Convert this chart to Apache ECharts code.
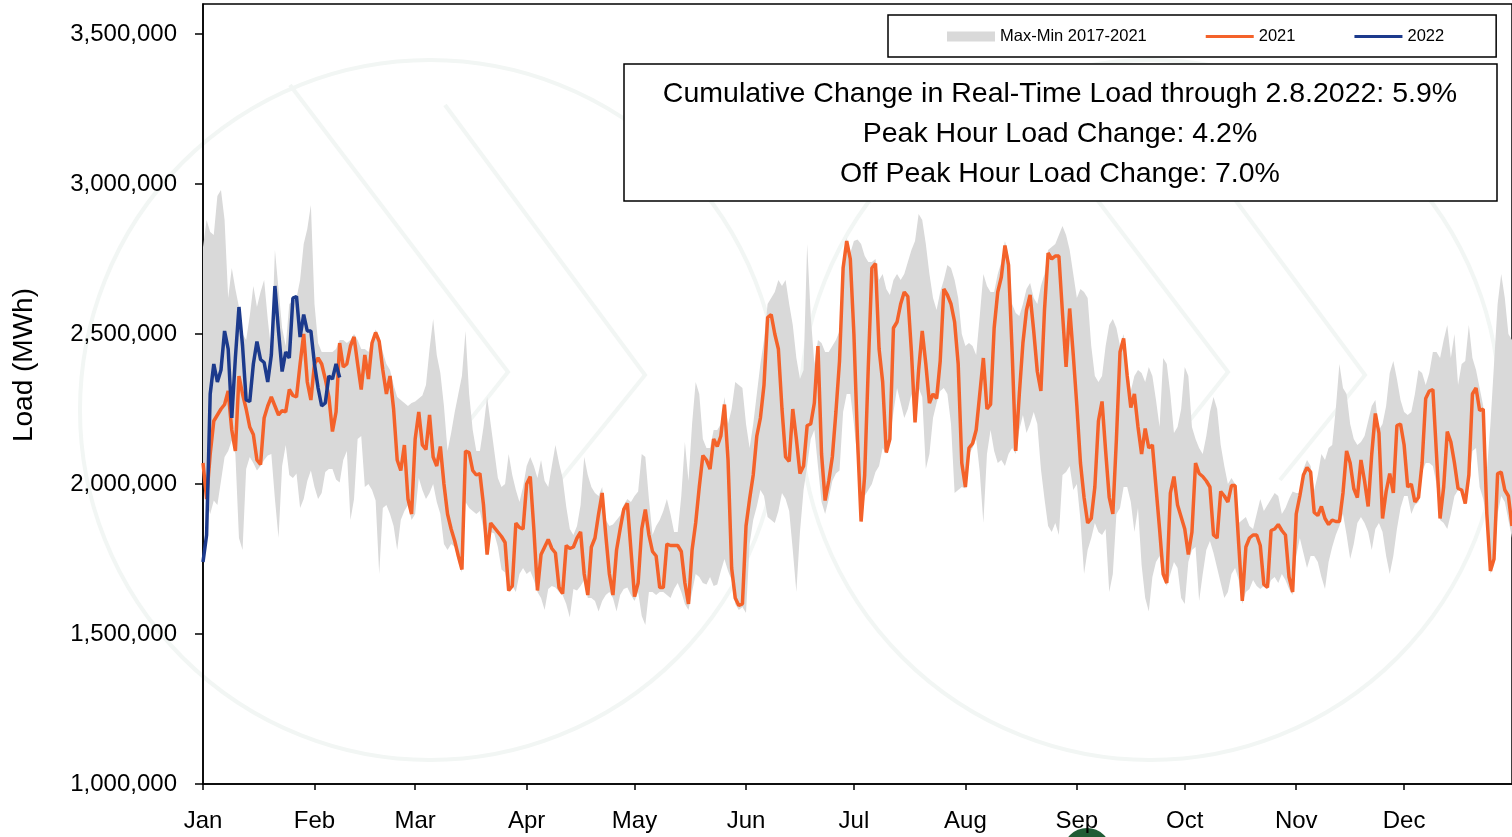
<!DOCTYPE html>
<html>
<head>
<meta charset="utf-8">
<title>Real-Time Load</title>
<script src="https://cdn.jsdelivr.net/npm/echarts@6/dist/echarts.min.js"></script>
<style>
  html, body { margin: 0; padding: 0; background: #fff; }
  #chart { width: 1512px; height: 837px; }
</style>
</head>
<body>
<div id="chart"></div>
<script>
// daily load, thousand MWh
var load2021 = [
  2070, 1950, 2100, 2210, 2230, 2250, 2265, 2310, 2180, 2110, 2360, 2300, 2250, 2190, 2165, 2080, 2065, 2220, 2260, 2290,
  2260, 2230, 2245, 2240, 2315, 2295, 2290, 2400, 2500, 2340, 2280, 2400, 2420, 2400, 2350, 2290, 2175, 2240, 2470, 2390,
  2400, 2460, 2490, 2400, 2315, 2430, 2350, 2470, 2505, 2475, 2380, 2300, 2360, 2250, 2080, 2045, 2130, 1950, 1900, 2150,
  2240, 2130, 2115, 2230, 2090, 2060, 2125, 2000, 1900, 1850, 1810, 1760, 1715, 2110, 2105, 2045, 2030, 2035, 1930, 1765,
  1870, 1855, 1840, 1825, 1805, 1645, 1660, 1870, 1855, 1850, 2000, 2025, 1850, 1645, 1765, 1790, 1815, 1785, 1770, 1655,
  1635, 1795, 1785, 1790, 1820, 1840, 1700, 1630, 1790, 1820, 1900, 1970, 1830, 1700, 1630, 1780, 1850, 1915, 1935, 1780,
  1625, 1670, 1850, 1915, 1830, 1775, 1760, 1655, 1655, 1800, 1795, 1795, 1795, 1775, 1670, 1600, 1780, 1870, 1990, 2095,
  2080, 2050, 2150, 2125, 2160, 2265, 2080, 1720, 1620, 1595, 1600, 1860, 1950, 2030, 2160, 2220, 2330, 2555, 2565, 2500,
  2450, 2250, 2090, 2075, 2250, 2150, 2035, 2060, 2195, 2200, 2270, 2460, 2100, 1945, 2010, 2090, 2240, 2410, 2720, 2810,
  2750, 2500, 2150, 1875, 2030, 2390, 2720, 2735, 2450, 2340, 2105, 2150, 2520, 2540, 2600, 2640, 2625, 2440, 2205, 2380,
  2510, 2400, 2270, 2300, 2285, 2410, 2650, 2630, 2600, 2540, 2400, 2070, 1990, 2120, 2135, 2180, 2300, 2420, 2250, 2265,
  2520, 2640, 2690, 2795, 2730, 2440, 2110, 2300, 2470, 2580, 2630, 2510, 2375, 2310, 2580, 2770, 2750, 2760, 2760, 2570,
  2390, 2585, 2430, 2260, 2070, 1955, 1870, 1885, 1990, 2210, 2275, 2110, 1955, 1900, 2150, 2440, 2485, 2360, 2255, 2300,
  2190, 2100, 2185, 2120, 2130, 1990, 1850, 1700, 1670, 1970, 2025, 1930, 1890, 1850, 1765, 1840, 2070, 2035, 2025, 2010,
  1990, 1830, 1820, 1975, 1960, 1940, 1995, 1995, 1800, 1610, 1790, 1820, 1830, 1830, 1795, 1665, 1655, 1845, 1850, 1865,
  1845, 1830, 1690, 1640, 1900, 1960, 2030, 2055, 2040, 1905, 1895, 1925, 1885, 1865, 1880, 1875, 1875, 1970, 2110, 2070,
  1985, 1955, 2080, 2010, 1925, 2100, 2235, 2170, 1885, 1975, 2035, 1970, 2195, 2200, 2130, 1990, 2000, 1940, 1955, 2070,
  2285, 2310, 2315, 2100, 1885, 1990, 2175, 2140, 2070, 1985, 1980, 1935, 2030, 2300, 2320, 2245, 2250, 1900, 1710, 1750,
  2035, 2040, 1980, 1960, 1860
];
var load2022 = [
  1740, 1830, 2300, 2400, 2340, 2380, 2510, 2450, 2220, 2420, 2590, 2460, 2280, 2275, 2400, 2475, 2415, 2405, 2340, 2430,
  2660, 2510, 2375, 2440, 2420, 2620, 2625, 2490, 2565, 2510, 2510, 2400, 2320, 2260, 2270, 2360, 2350, 2400, 2355
];
var max1721 = [
  2790, 2880, 2840, 2830, 2960, 2980, 2880, 2620, 2720, 2650, 2590, 2500, 2480, 2560, 2660, 2590, 2640, 2680, 2550, 2440,
  2780, 2650, 2520, 2460, 2600, 2610, 2620, 2680, 2800, 2850, 2930, 2600, 2470, 2440, 2440, 2440, 2440, 2450, 2480, 2480,
  2470, 2480, 2500, 2480, 2450, 2450, 2440, 2480, 2515, 2490, 2440, 2400, 2380, 2330, 2290, 2280, 2270, 2260, 2270, 2275,
  2285, 2295, 2330, 2450, 2550, 2430, 2370, 2260, 2110, 2170, 2240, 2300, 2360, 2510, 2300, 2180, 2110, 2110, 2190, 2290,
  2200, 2110, 2020, 1990, 2000, 2100, 2030, 1980, 1940, 1990, 2060, 2090, 2060, 2020, 2080, 2010, 1990, 2060, 2130, 2070,
  2020, 1925, 1850, 1830, 1860, 1930, 2090, 2030, 1990, 1970, 1960, 1990, 1880, 1860, 1865, 1880, 1895, 1930, 1950, 1940,
  1960, 1975, 2100, 2090, 1950, 1830, 1860, 1880, 1910, 1950, 1900, 1840, 1840, 1960, 2140, 2010, 2200, 2340, 2300, 2150,
  2120, 2120, 2180, 2180, 2200, 2290, 2200, 2250, 2340, 2330, 2320, 2200, 2120, 2200, 2300, 2400, 2480, 2600, 2620, 2640,
  2680, 2660, 2680, 2600, 2530, 2420, 2350, 2380, 2800, 2560, 2400, 2480, 2470, 2440, 2440, 2460, 2480, 2510, 2730, 2820,
  2770, 2810, 2815, 2800, 2760, 2740, 2740, 2750, 2680, 2700, 2650, 2630, 2680, 2700, 2680, 2700, 2740, 2780, 2810, 2900,
  2880, 2800, 2700, 2620, 2580, 2640, 2680, 2730, 2720, 2680, 2620, 2500, 2460, 2470, 2460, 2430, 2560, 2700, 2660, 2640,
  2640, 2700, 2740, 2810, 2760, 2600, 2570, 2560, 2600, 2650, 2670, 2620, 2600, 2660, 2700, 2780, 2790, 2800, 2830, 2860,
  2830, 2780, 2700, 2620, 2650, 2640, 2620, 2460, 2360, 2340, 2360, 2460, 2530, 2550, 2520, 2460, 2500, 2390, 2310, 2360,
  2380, 2370, 2340, 2390, 2360, 2280, 2190, 2420, 2400, 2300, 2170, 2190, 2250, 2390, 2360, 2190, 2150, 2120, 2100, 2160,
  2240, 2290, 2250, 2130, 2060, 2000, 2020, 2000, 1870, 1880, 1890, 1860, 1850, 1900, 1950, 1910, 1930, 1950, 1970, 1960,
  1900, 1920, 1950, 1975, 1970, 1970, 2050, 2080, 2060, 1980, 2030, 2100, 2080, 2120, 2130, 2250, 2400, 2320, 2300, 2200,
  2150, 2130, 2140, 2160, 2210, 2260, 2280, 2180, 2200, 2260, 2370, 2410, 2350, 2280, 2240, 2230, 2240, 2300, 2380, 2370,
  2330, 2370, 2440, 2440, 2420, 2480, 2530, 2420, 2500, 2330, 2400, 2410, 2530, 2420, 2380, 2320, 2260, 2040, 2200, 2400,
  2600, 2700, 2620, 2500, 2480
];
var min1721 = [
  2030, 1940, 1900, 1945, 1930, 2010, 2090, 2110, 2145, 2100, 1820, 1780, 2050, 2090, 2070, 2045, 2060, 2080, 2095, 2100,
  1950, 1820, 2060, 2130, 2030, 2020, 2035, 1920, 1950, 2010, 2045, 1990, 1950, 1970, 2040, 2050, 2050, 2015, 2005, 2080,
  2110, 1880, 1950, 2150, 2160, 1990, 2000, 1980, 1945, 1700, 1920, 1930, 1900, 1860, 1780, 1880, 1910, 1930, 1880, 1900,
  2020, 1980, 1950, 1970, 2000, 1940, 1900, 1800, 1780, 1800, 1790, 1740, 1705, 1940, 1920, 1910, 1900, 1910, 1850, 1760,
  1840, 1835, 1790, 1715, 1705, 1640, 1660, 1640, 1700, 1720, 1700, 1710, 1680, 1640, 1620, 1580, 1650, 1660, 1655, 1640,
  1630, 1600, 1555, 1650, 1645, 1660, 1680, 1620, 1620, 1610, 1575, 1610, 1630, 1640, 1620, 1575, 1630, 1650, 1655, 1630,
  1610, 1640, 1560, 1530, 1640, 1640, 1630, 1640, 1640, 1630, 1620, 1650, 1670, 1640, 1600, 1580, 1640, 1700, 1690, 1670,
  1665, 1690, 1660, 1665, 1710, 1750, 1710, 1680, 1600, 1580, 1590, 1570, 1800, 1880, 1925, 1980, 1960, 1890, 1880, 1870,
  1910, 1970, 1950, 1910, 1780, 1640, 1840, 1980, 2060, 2150, 2180, 2060, 1940, 1900, 1950, 2010, 2035, 2045, 2240, 2300,
  2300, 2200, 2080, 1870, 1960, 1980, 2000, 2040, 2060, 2120, 2100, 2150, 2240, 2320, 2270, 2220, 2250, 2300, 2200, 2320,
  2290, 2050, 2100, 2220, 2270, 2310, 2320, 2300, 2200, 1970, 1980, 1990, 1985, 2100, 2120, 2150, 2040, 1870, 2100, 2180,
  2110, 2070, 2080, 2060, 2100, 2120, 2100, 2180, 2230, 2170, 2200, 2240, 2200, 2050, 1950, 1860, 1840, 1870, 1830, 2030,
  2040, 2060, 1980, 2000, 1880, 1700, 1780, 1820, 1870, 1840, 1830, 1850, 1640, 1700, 1900, 1920, 1990, 1990, 1940, 1840,
  1920, 1730, 1620, 1575, 1690, 1740, 1760, 1690, 1660, 1700, 1740, 1720, 1620, 1600, 1740, 1780, 1790, 1610, 1700, 1780,
  1810, 1770, 1720, 1670, 1620, 1640, 1700, 1720, 1680, 1600, 1640, 1650, 1680, 1660, 1650, 1660, 1650, 1680, 1690, 1670,
  1700, 1680, 1650, 1630, 1760, 1820, 1770, 1720, 1760, 1760, 1740, 1690, 1650, 1740, 1790, 1830, 1860, 1900, 1830, 1750,
  1800, 1870, 1890, 1870, 1840, 1780, 1850, 1870, 1840, 1760, 1700, 1760, 1850, 1920, 1960, 1960, 1900, 1930, 1940, 2040,
  2070, 2070, 2060, 2000, 1880, 1870, 1850, 1900, 1960, 1980, 1980, 1930, 2010, 2110, 2120, 1990, 1950, 1880, 1700, 1740,
  1900, 1960, 1940, 1880, 1820
];
var monthStarts = [0, 31, 59, 90, 120, 151, 181, 212, 243, 273, 304, 334];
var monthLabels = ['Jan', 'Feb', 'Mar', 'Apr', 'May', 'Jun', 'Jul', 'Aug', 'Sep', 'Oct', 'Nov', 'Dec'];
var noteLines = [
  'Cumulative Change in Real-Time Load through 2.8.2022: 5.9%',
  'Peak Hour Load Change: 4.2%',
  'Off Peak Hour Load Change: 7.0%'
];

var font = "'Liberation Sans', Arial, sans-serif";
var days = [];
for (var i = 0; i < load2021.length; i++) days.push(i);

var isMonthStart = function (idx) {
  return monthStarts.indexOf(idx) >= 0;
};
var toMWh = function (arr) {
  return arr.map(function (v) { return v * 1000; });
};

var chart = echarts.init(document.getElementById('chart'));

var mark = '#f2f6f4';
var lineIcon = 'path://M0,0H48V3H0Z';
var graphics = [
  // faint logo watermark
  { type: 'circle', shape: { cx: 430, cy: 410, r: 350 }, style: { fill: 'none', stroke: mark, lineWidth: 4 }, z: -10, silent: true },
  { type: 'polyline', shape: { points: [[290, 85], [508, 372], [470, 420]] }, style: { fill: 'none', stroke: mark, lineWidth: 4 }, z: -10, silent: true },
  { type: 'polyline', shape: { points: [[445, 105], [645, 375], [560, 480]] }, style: { fill: 'none', stroke: mark, lineWidth: 4 }, z: -10, silent: true },
  { type: 'circle', shape: { cx: 1150, cy: 410, r: 350 }, style: { fill: 'none', stroke: mark, lineWidth: 4 }, z: -10, silent: true },
  { type: 'polyline', shape: { points: [[1010, 85], [1228, 372], [1190, 420]] }, style: { fill: 'none', stroke: mark, lineWidth: 4 }, z: -10, silent: true },
  { type: 'polyline', shape: { points: [[1165, 105], [1365, 375], [1280, 480]] }, style: { fill: 'none', stroke: mark, lineWidth: 4 }, z: -10, silent: true },
  { type: 'circle', shape: { cx: 1087, cy: 852, r: 24 }, style: { fill: '#1f5c35' }, z: -10, silent: true },
  // y axis title
  {
    type: 'text', x: 24, y: 365, rotation: Math.PI / 2,
    style: { text: 'Load (MWh)', fontSize: 28, fontFamily: font, fill: '#000', align: 'center', verticalAlign: 'middle' }
  },
  // note box
  { type: 'rect', shape: { x: 624, y: 64, width: 873, height: 137 }, style: { fill: '#fff', stroke: '#000', lineWidth: 1.5 }, z: 50 }
];
noteLines.forEach(function (t, k) {
  graphics.push({
    type: 'text', x: 1060, y: 94 + k * 40, z: 51,
    style: { text: t, fontSize: 28.5, fontFamily: font, fill: '#000', align: 'center', verticalAlign: 'middle' }
  });
});

var option = {
  backgroundColor: '#ffffff',
  animation: false,
  grid: { left: 203, right: -2, top: 4, bottom: 53, show: true, borderColor: '#000', borderWidth: 1.5, containLabel: false },
  legend: {
    left: 888, top: 15, width: 580,
    padding: [13, 52, 12, 59],
    borderColor: '#000', borderWidth: 1.5,
    backgroundColor: '#fff',
    itemWidth: 48, itemHeight: 10, itemGap: 59,
    symbolKeepAspect: true,
    selectedMode: false,
    textStyle: { fontSize: 16.5, fontFamily: font, color: '#000' },
    data: [
      { name: 'Max-Min 2017-2021', icon: 'rect', itemStyle: { color: '#d9d9d9' } },
      { name: '2021', icon: lineIcon, itemStyle: { color: '#f4622a' } },
      { name: '2022', icon: lineIcon, itemStyle: { color: '#1c3a8c' } }
    ]
  },
  xAxis: {
    type: 'category',
    data: days,
    boundaryGap: false,
    axisLine: { lineStyle: { color: '#000', width: 1.5 } },
    axisTick: { interval: function (idx) { return isMonthStart(idx); }, length: 6, lineStyle: { color: '#000', width: 1.5 } },
    axisLabel: {
      interval: function (idx) { return isMonthStart(idx); },
      formatter: function (v, idx) { return monthLabels[monthStarts.indexOf(idx)] || ''; },
      margin: 25, fontSize: 24, fontFamily: font, color: '#000'
    },
    splitLine: { show: false }
  },
  yAxis: {
    type: 'value',
    min: 1000000, max: 3600000, interval: 500000,
    axisLine: { show: true, lineStyle: { color: '#000', width: 1.5 } },
    axisTick: { show: true, length: 8, lineStyle: { color: '#000', width: 1.5 } },
    axisLabel: {
      showMaxLabel: false,
      margin: 26, fontSize: 24, fontFamily: font, color: '#000',
      formatter: function (v) { return v.toLocaleString('en-US'); }
    },
    splitLine: { show: false }
  },
  series: [
    {
      name: 'bandBase', type: 'line', stack: 'band', data: toMWh(min1721),
      symbol: 'none', lineStyle: { opacity: 0 }, silent: true, z: 1
    },
    {
      name: 'Max-Min 2017-2021', type: 'line', stack: 'band',
      data: max1721.map(function (v, i) { return (v - min1721[i]) * 1000; }),
      symbol: 'none', lineStyle: { opacity: 0, width: 0 }, itemStyle: { color: '#d9d9d9' },
      areaStyle: { color: '#d9d9d9', opacity: 1 }, silent: true, z: 1
    },
    {
      name: '2021', type: 'line', data: toMWh(load2021), symbol: 'none',
      lineStyle: { color: '#f4622a', width: 3.5 }, itemStyle: { color: '#f4622a' }, z: 3
    },
    {
      name: '2022', type: 'line', data: toMWh(load2022), symbol: 'none',
      lineStyle: { color: '#1c3a8c', width: 3.5 }, itemStyle: { color: '#1c3a8c' }, z: 4
    }
  ],
  graphic: graphics
};
chart.setOption(option);
</script>
</body>
</html>
